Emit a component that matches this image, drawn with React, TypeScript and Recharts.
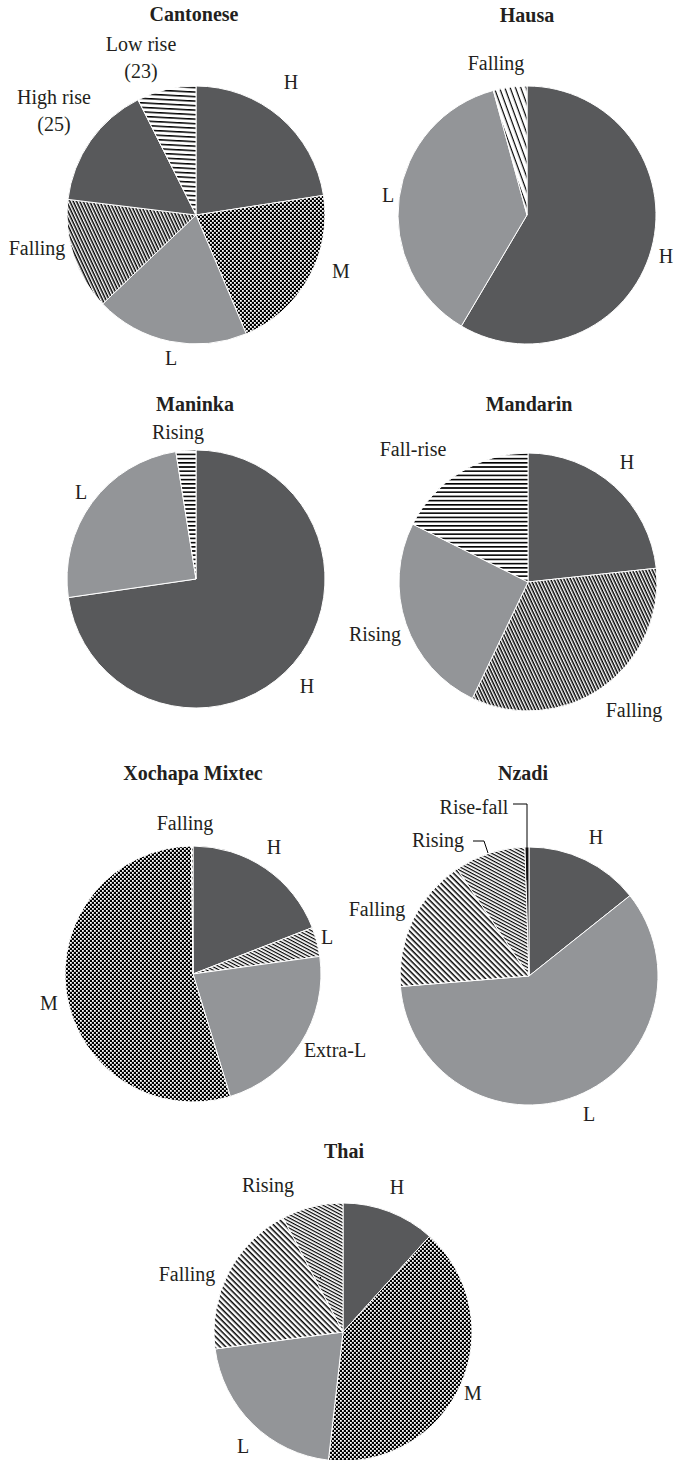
import React from 'react';
import { PieChart, Pie, Cell } from 'recharts';

// ---------- DATA ----------
const cantoneseNames = ['H', 'M', 'L', 'Falling', 'High rise\n(25)', 'Low rise\n(23)'];
const cantoneseValues = [22.5, 21.0, 19.2, 14.0, 15.6, 7.4];

const hausaNames = ['H', 'L', 'Falling'];
const hausaValues = [58.5, 37.3, 4.2];

const maninkaNames = ['H', 'L', 'Rising'];
const maninkaValues = [72.7, 24.8, 2.5];

const mandarinNames = ['H', 'Falling', 'Rising', 'Fall-rise'];
const mandarinValues = [23.3, 33.8, 25.3, 17.6];

const mixtecNames = ['H', 'L', 'Extra-L', 'M', 'Falling'];
const mixtecValues = [19.1, 3.7, 22.5, 54.5, 0.2];

const nzadiNames = ['H', 'L', 'Falling', 'Rising', 'Rise-fall'];
const nzadiValues = [14.3, 59.4, 16.9, 8.9, 0.5];

const thaiNames = ['H', 'M', 'L', 'Falling', 'Rising'];
const thaiValues = [11.7, 40.1, 21.1, 19.4, 7.7];

const titles = ['Cantonese', 'Hausa', 'Maninka', 'Mandarin', 'Xochapa Mixtec', 'Nzadi', 'Thai'];

// ---------- STYLE ----------
const DARK = '#58595b';
const LIGHT = '#939598';
const BLACK = '#231f20';
const FONT = '"Liberation Serif", "Times New Roman", serif';

const cantoneseFills = [DARK, 'url(#checker)', LIGHT, 'url(#diagSteep)', DARK, 'url(#hzLow)'];
const hausaFills = [DARK, LIGHT, 'url(#diagHausa)'];
const maninkaFills = [DARK, LIGHT, 'url(#horiz)'];
const mandarinFills = [DARK, 'url(#diagSteep)', LIGHT, 'url(#horiz)'];
const mixtecFills = [DARK, 'url(#diagShallow)', LIGHT, 'url(#checker)', 'url(#diagMid)'];
const nzadiFills = [DARK, LIGHT, 'url(#diagMid)', 'url(#diagShallow)', BLACK];
const thaiFills = [DARK, 'url(#checker)', LIGHT, 'url(#diagMid)', 'url(#diagShallow)'];

type Layout = {
  cx: number; cy: number; r: number;
  title: [number, number];
  labels: [number, number][];
  leaders?: Record<number, [number, number][]>;
};

const layouts: Layout[] = [
  { cx: 196, cy: 215, r: 129, title: [194, 14],
    labels: [[95, -133], [145, 56], [-25, 143], [-159, 33], [-142, -118], [-55, -171]] },
  { cx: 527, cy: 215, r: 129, title: [527, 15],
    labels: [[139, 41], [-139, -20], [-31, -152]] },
  { cx: 196, cy: 579, r: 129, title: [195, 404],
    labels: [[111, 107], [-115, -87], [-18, -147]] },
  { cx: 528, cy: 582, r: 129, title: [529, 404],
    labels: [[99, -120], [106, 128], [-153, 52], [-115, -133]] },
  { cx: 193, cy: 974, r: 128, title: [193, 773],
    labels: [[81, -127], [134, -37], [142, 76], [-144, 29], [-8, -151]] },
  { cx: 529, cy: 976, r: 129, title: [523, 773],
    labels: [[67, -139], [60, 138], [-152, -67], [-91, -136], [-55, -169]],
    leaders: {
      3: [[-56, -135], [-45, -135], [-41, -123]],
      4: [[-16, -172], [-2, -172], [-2, -96]],
    } },
  { cx: 343, cy: 1332, r: 129, title: [344, 1151],
    labels: [[54, -145], [130, 61], [-100, 114], [-156, -58], [-75, -147]] },
];

const charts = [
  { names: cantoneseNames, values: cantoneseValues, fills: cantoneseFills },
  { names: hausaNames, values: hausaValues, fills: hausaFills },
  { names: maninkaNames, values: maninkaValues, fills: maninkaFills },
  { names: mandarinNames, values: mandarinValues, fills: mandarinFills },
  { names: mixtecNames, values: mixtecValues, fills: mixtecFills },
  { names: nzadiNames, values: nzadiValues, fills: nzadiFills },
  { names: thaiNames, values: thaiValues, fills: thaiFills },
];

const linePatterns = [
  { id: 'horiz', period: 4.2, thick: 1.6, angle: 0 },
  { id: 'hzLow', period: 4.5, thick: 1.5, angle: 3 },
  { id: 'diagSteep', period: 3, thick: 1.5, angle: 65 },
  { id: 'diagHausa', period: 5, thick: 1.2, angle: 70 },
  { id: 'diagMid', period: 4, thick: 1.5, angle: 45 },
  { id: 'diagShallow', period: 3, thick: 1.2, angle: 28 },
];

const W = 674;
const H = 1460;

function Patterns() {
  return (
    <svg width={0} height={0} style={{ position: 'absolute' }}>
      <defs>
        <pattern id="checker" patternUnits="userSpaceOnUse" width={4} height={4}>
          <rect width={4} height={4} fill="#000" />
          <rect x={0} y={0} width={1.8} height={1.8} fill="#fff" />
          <rect x={2} y={2} width={1.8} height={1.8} fill="#fff" />
        </pattern>
        {linePatterns.map((p) => (
          <pattern key={p.id} id={p.id} patternUnits="userSpaceOnUse" width={10} height={p.period}
            patternTransform={`rotate(${p.angle})`}>
            <rect width={10} height={p.period} fill="#fff" />
            <rect width={10} height={p.thick} fill="#000" />
          </pattern>
        ))}
      </defs>
    </svg>
  );
}

export default function App() {
  return (
    <div style={{ position: 'relative', width: W, height: H, background: '#fff' }}>
      <style>{'body{margin:0;}'}</style>
      <Patterns />
      <PieChart width={W} height={H} margin={{ top: 0, right: 0, bottom: 0, left: 0 }}>
        {charts.map((c, ci) => {
          const lay = layouts[ci];
          const data = c.names.map((n, i) => ({ name: n, value: c.values[i] }));
          const renderLabel = (props: any) => {
            const i = props.index;
            const [dx, dy] = lay.labels[i];
            const lines = String(c.names[i]).split('\n');
            const leader = lay.leaders ? lay.leaders[i] : undefined;
            return (
              <g key={`lab-${ci}-${i}`}>
                {leader && (
                  <polyline
                    points={leader.map(([x, y]) => `${lay.cx + x},${lay.cy + y}`).join(' ')}
                    fill="none" stroke="#000" strokeWidth={1}
                  />
                )}
                <text x={lay.cx + dx} y={lay.cy + dy} textAnchor="middle" dominantBaseline="central"
                  fontFamily={FONT} fontSize={20} fill="#231f20">
                  {lines.map((l, li) => (
                    <tspan key={li} x={lay.cx + dx} dy={li === 0 ? 0 : 27}>{l}</tspan>
                  ))}
                </text>
              </g>
            );
          };
          return (
            <Pie
              key={ci}
              data={data}
              dataKey="value"
              nameKey="name"
              cx={lay.cx}
              cy={lay.cy}
              outerRadius={lay.r}
              innerRadius={0}
              startAngle={90}
              endAngle={-270}
              stroke="#fff"
              strokeWidth={1}
              isAnimationActive={false}
              label={renderLabel}
              labelLine={false}
            >
              {data.map((d, i) => (
                <Cell key={i} fill={c.fills[i]} />
              ))}
            </Pie>
          );
        })}
      </PieChart>
      <svg width={W} height={H} style={{ position: 'absolute', left: 0, top: 0, pointerEvents: 'none' }}>
        {titles.map((t, i) => (
          <text key={t} x={layouts[i].title[0]} y={layouts[i].title[1]} textAnchor="middle"
            dominantBaseline="central" fontFamily={FONT} fontWeight="bold" fontSize={20} fill="#231f20">
            {t}
          </text>
        ))}
      </svg>
    </div>
  );
}
